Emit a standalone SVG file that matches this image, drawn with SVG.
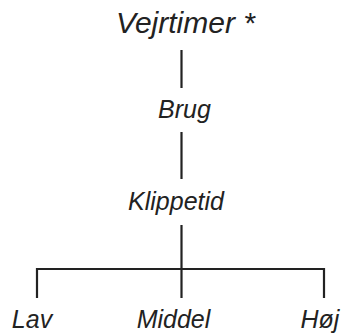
<svg xmlns="http://www.w3.org/2000/svg" width="347" height="333" viewBox="0 0 347 333">
<style>
.t{font-family:"Liberation Sans",Arial,sans-serif;font-style:italic;fill:#222;text-anchor:middle}
.c{stroke:#222;stroke-width:2.2;fill:none}
</style>
<rect width="347" height="333" fill="#fff"/>
<g id="connectors">
<line class="c" x1="181.5" y1="50" x2="181.5" y2="88"/>
<line class="c" x1="181.5" y1="132" x2="181.5" y2="179"/>
<line class="c" x1="181.5" y1="225" x2="181.5" y2="298"/>
<polyline class="c" points="37,298 37,269 324,269 324,298"/>
</g>
<g id="n-vejrtimer"><text class="t" x="185.5" y="33" font-size="30">Vejrtimer *</text></g>
<g id="n-brug"><text class="t" x="184.5" y="118" font-size="25">Brug</text></g>
<g id="n-klippetid"><text class="t" x="176" y="210" font-size="25">Klippetid</text></g>
<g id="n-lav"><text class="t" x="32" y="328" font-size="25">Lav</text></g>
<g id="n-middel"><text class="t" x="173.5" y="328" font-size="25">Middel</text></g>
<g id="n-hoj"><text class="t" x="320" y="328" font-size="25">Høj</text></g>
</svg>
